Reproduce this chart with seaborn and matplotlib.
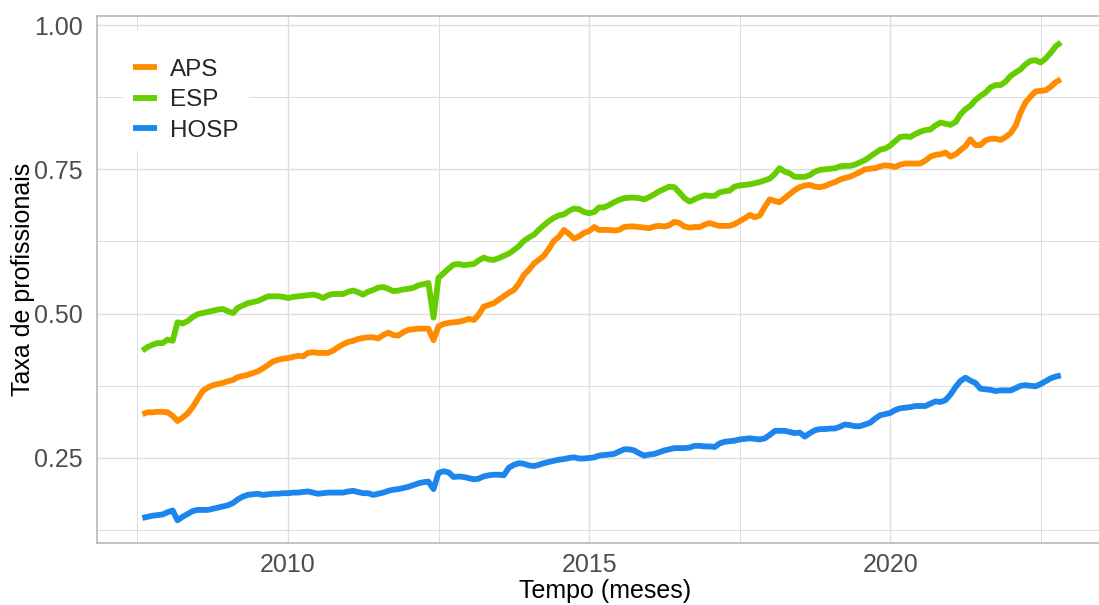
"""
Taxa de profissionais por tipo de serviço (APS, ESP, HOSP), série mensal 2007-2022.
Saída: out.png
"""
import matplotlib
matplotlib.use("Agg")
import matplotlib.pyplot as plt
import pandas as pd
import seaborn as sns

# Série mensal, de ago/2007 a nov/2022 (uma linha por ano civil)
APS = [
    0.326, 0.329, 0.329, 0.330, 0.330,                                              # 2007
    0.329, 0.323, 0.314, 0.320, 0.327, 0.338, 0.352, 0.366, 0.372, 0.376, 0.378, 0.380,  # 2008
    0.383, 0.385, 0.390, 0.392, 0.394, 0.397, 0.400, 0.405, 0.411, 0.417, 0.420, 0.422,  # 2009
    0.423, 0.425, 0.427, 0.426, 0.432, 0.433, 0.432, 0.432, 0.432, 0.436, 0.442, 0.447,  # 2010
    0.451, 0.453, 0.456, 0.458, 0.459, 0.459, 0.457, 0.463, 0.467, 0.463, 0.462, 0.468,  # 2011
    0.472, 0.473, 0.474, 0.474, 0.474, 0.454, 0.478, 0.482, 0.484, 0.485, 0.486, 0.488,  # 2012
    0.491, 0.489, 0.498, 0.512, 0.515, 0.518, 0.524, 0.530, 0.536, 0.541, 0.552, 0.567,  # 2013
    0.576, 0.587, 0.593, 0.600, 0.612, 0.626, 0.633, 0.645, 0.638, 0.630, 0.634, 0.640,  # 2014
    0.643, 0.650, 0.645, 0.645, 0.645, 0.644, 0.645, 0.650, 0.651, 0.651, 0.650, 0.649,  # 2015
    0.648, 0.651, 0.652, 0.651, 0.653, 0.659, 0.657, 0.651, 0.649, 0.650, 0.650, 0.654,  # 2016
    0.657, 0.654, 0.652, 0.652, 0.652, 0.655, 0.660, 0.665, 0.671, 0.667, 0.670, 0.685,  # 2017
    0.698, 0.695, 0.693, 0.700, 0.707, 0.714, 0.719, 0.722, 0.723, 0.720, 0.719, 0.721,  # 2018
    0.725, 0.728, 0.732, 0.735, 0.737, 0.741, 0.745, 0.750, 0.751, 0.752, 0.755, 0.757,  # 2019
    0.756, 0.754, 0.758, 0.760, 0.760, 0.760, 0.760, 0.765, 0.772, 0.775, 0.776, 0.779,  # 2020
    0.772, 0.776, 0.783, 0.790, 0.802, 0.792, 0.792, 0.800, 0.803, 0.803, 0.801, 0.806,  # 2021
    0.813, 0.826, 0.848, 0.866, 0.876, 0.885, 0.886, 0.887, 0.893, 0.901, 0.906,         # 2022
]
ESP = [
    0.436, 0.442, 0.446, 0.449, 0.449,
    0.455, 0.453, 0.485, 0.483, 0.487, 0.494, 0.499, 0.501, 0.503, 0.505, 0.507, 0.508,
    0.504, 0.501, 0.510, 0.514, 0.518, 0.520, 0.522, 0.526, 0.530, 0.530, 0.530, 0.529,
    0.527, 0.529, 0.530, 0.531, 0.532, 0.533, 0.531, 0.527, 0.532, 0.534, 0.534, 0.534,
    0.538, 0.540, 0.537, 0.533, 0.538, 0.541, 0.545, 0.546, 0.543, 0.539, 0.540, 0.542,
    0.543, 0.545, 0.549, 0.551, 0.553, 0.493, 0.562, 0.570, 0.578, 0.585, 0.586, 0.584,
    0.585, 0.586, 0.592, 0.597, 0.594, 0.593, 0.596, 0.600, 0.604, 0.610, 0.617, 0.626,
    0.632, 0.637, 0.645, 0.653, 0.660, 0.666, 0.670, 0.672, 0.678, 0.682, 0.681, 0.676,
    0.674, 0.676, 0.684, 0.684, 0.688, 0.693, 0.697, 0.700, 0.701, 0.701, 0.700, 0.698,
    0.702, 0.707, 0.712, 0.716, 0.720, 0.719, 0.710, 0.700, 0.694, 0.698, 0.702, 0.705,
    0.704, 0.704, 0.710, 0.712, 0.713, 0.720, 0.722, 0.723, 0.724, 0.726, 0.728, 0.731,
    0.734, 0.742, 0.752, 0.746, 0.743, 0.737, 0.737, 0.737, 0.740, 0.746, 0.749, 0.750,
    0.751, 0.752, 0.755, 0.756, 0.756, 0.758, 0.762, 0.766, 0.772, 0.778, 0.784, 0.786,
    0.791, 0.799, 0.806, 0.807, 0.806, 0.811, 0.815, 0.818, 0.819, 0.826, 0.831, 0.829,
    0.827, 0.832, 0.845, 0.854, 0.860, 0.870, 0.877, 0.883, 0.892, 0.896, 0.896, 0.902,
    0.912, 0.918, 0.923, 0.932, 0.938, 0.939, 0.935, 0.942, 0.952, 0.963, 0.970,
]
HOSP = [
    0.146, 0.148, 0.150, 0.151, 0.152,
    0.156, 0.159, 0.142, 0.148, 0.153, 0.158, 0.160, 0.160, 0.160, 0.162, 0.164, 0.166,
    0.168, 0.172, 0.178, 0.183, 0.186, 0.187, 0.188, 0.186, 0.187, 0.188, 0.188, 0.189,
    0.189, 0.190, 0.190, 0.191, 0.192, 0.190, 0.188, 0.189, 0.190, 0.190, 0.190, 0.190,
    0.192, 0.193, 0.191, 0.189, 0.189, 0.186, 0.188, 0.190, 0.193, 0.195, 0.196, 0.198,
    0.200, 0.203, 0.206, 0.208, 0.209, 0.196, 0.224, 0.227, 0.225, 0.217, 0.218, 0.217,
    0.215, 0.213, 0.214, 0.218, 0.220, 0.221, 0.221, 0.220, 0.233, 0.238, 0.241, 0.240,
    0.237, 0.236, 0.238, 0.241, 0.243, 0.245, 0.247, 0.248, 0.250, 0.251, 0.249, 0.249,
    0.250, 0.251, 0.254, 0.255, 0.256, 0.257, 0.261, 0.265, 0.265, 0.263, 0.258, 0.254,
    0.256, 0.257, 0.260, 0.263, 0.265, 0.267, 0.267, 0.267, 0.268, 0.271, 0.271, 0.270,
    0.270, 0.269, 0.275, 0.278, 0.279, 0.280, 0.282, 0.283, 0.284, 0.283, 0.282, 0.284,
    0.290, 0.297, 0.297, 0.297, 0.295, 0.293, 0.294, 0.287, 0.293, 0.298, 0.300, 0.300,
    0.301, 0.301, 0.304, 0.308, 0.307, 0.305, 0.305, 0.308, 0.311, 0.318, 0.324, 0.326,
    0.328, 0.333, 0.336, 0.337, 0.338, 0.340, 0.340, 0.340, 0.344, 0.348, 0.347, 0.350,
    0.360, 0.373, 0.383, 0.389, 0.384, 0.380, 0.370, 0.369, 0.368, 0.366, 0.367, 0.367,
    0.367, 0.371, 0.375, 0.376, 0.375, 0.374, 0.378, 0.383, 0.388, 0.391, 0.393,
]
START_MONTH = "2007-08-01"
GROUPS = ["APS", "ESP", "HOSP"]
PALETTE = {"APS": "#FF8C00", "ESP": "#66CD00", "HOSP": "#1C86EE"}

YEAR_TICKS = ["2010", "2015", "2020"]
MINOR_X = ["2007-07-02", "2012-07-02", "2017-07-02", "2022-07-02"]
Y_TICKS = [0.25, 0.50, 0.75, 1.00]
Y_MINOR = [0.125, 0.375, 0.625, 0.875]

GRID = "#DEDEDE"
BORDER = "#B3B3B3"
TEXT = "#4D4D4D"
LW = 4.2


def build_frame() -> pd.DataFrame:
    months = pd.date_range(START_MONTH, periods=len(APS), freq="MS")
    frames = []
    for name, vals in zip(GROUPS, [APS, ESP, HOSP]):
        frames.append(pd.DataFrame({"mes": months, "taxa": vals, "grupo": name}))
    return pd.concat(frames, ignore_index=True)


def main() -> None:
    sns.set_style("white")
    plt.rcParams["font.family"] = ["Liberation Sans", "DejaVu Sans"]

    df = build_frame()

    fig = plt.figure(figsize=(10.99, 6.05), dpi=100)
    # painel cortado à direita, como no original
    ax = fig.add_axes([96.7 / 1099, 62.3 / 605, (1107 - 96.7) / 1099, 526.7 / 605])

    sns.lineplot(
        data=df, x="mes", y="taxa", hue="grupo", hue_order=GROUPS,
        palette=PALETTE, linewidth=LW, ax=ax, zorder=3,
    )
    for line in ax.lines:
        line.set_solid_capstyle("butt")
        line.set_solid_joinstyle("round")

    ax.set_xlim(pd.Timestamp("2006-10-28"), pd.Timestamp("2023-08-08"))
    ax.set_ylim(0.1032, 1.0156)

    ax.set_xticks([pd.Timestamp(f"{y}-01-01") for y in YEAR_TICKS])
    ax.set_xticklabels(YEAR_TICKS)
    ax.set_xticks([pd.Timestamp(d) for d in MINOR_X], minor=True)
    ax.set_yticks(Y_TICKS)
    ax.set_yticklabels([f"{v:.2f}" for v in Y_TICKS])
    ax.set_yticks(Y_MINOR, minor=True)

    ax.grid(True, which="major", color=GRID, linewidth=1.0, zorder=0)
    ax.grid(True, which="minor", color=GRID, linewidth=0.75, zorder=0)
    ax.set_axisbelow(True)

    for side in ["left", "bottom", "top", "right"]:
        ax.spines[side].set_color(BORDER)
        ax.spines[side].set_linewidth(1.1)

    ax.tick_params(axis="both", which="major", length=3.2, width=1.0, color=BORDER,
                   labelsize=18, labelcolor=TEXT)
    ax.tick_params(axis="x", which="major", pad=4)
    ax.tick_params(axis="y", which="major", pad=7)
    ax.tick_params(axis="both", which="minor", length=0)

    ax.set_xlabel("Tempo (meses)", fontsize=18, color="black")
    ax.set_ylabel("Taxa de profissionais", fontsize=18, color="black")
    ax.xaxis.set_label_coords((605 - 96.7) / 1010.3, (542.7 - 591) / 526.7)
    ax.xaxis.label.set_verticalalignment("center")
    ax.yaxis.set_label_coords((23 - 96.7) / 1010.3, 0.5)
    ax.yaxis.label.set_verticalalignment("center")

    handles, labels = ax.get_legend_handles_labels()
    leg = ax.legend(
        handles, labels, loc="upper left", title=" ", title_fontsize=8,
        bbox_to_anchor=((123 - 96.7) / 1010.3, 1 - (31 - 16) / 526.7),
        borderaxespad=0, borderpad=0.4, frameon=True, fancybox=False,
        fontsize=17.5, handlelength=1.0, handletextpad=0.55, labelspacing=0.34,
    )
    leg.get_frame().set_facecolor("white")
    leg.get_frame().set_edgecolor("none")
    leg.get_frame().set_alpha(1.0)
    for h in leg.legend_handles:
        h.set_linewidth(LW)
        h.set_solid_capstyle("butt")

    fig.savefig("out.png", dpi=100, facecolor="white")
    plt.close(fig)


if __name__ == "__main__":
    main()
